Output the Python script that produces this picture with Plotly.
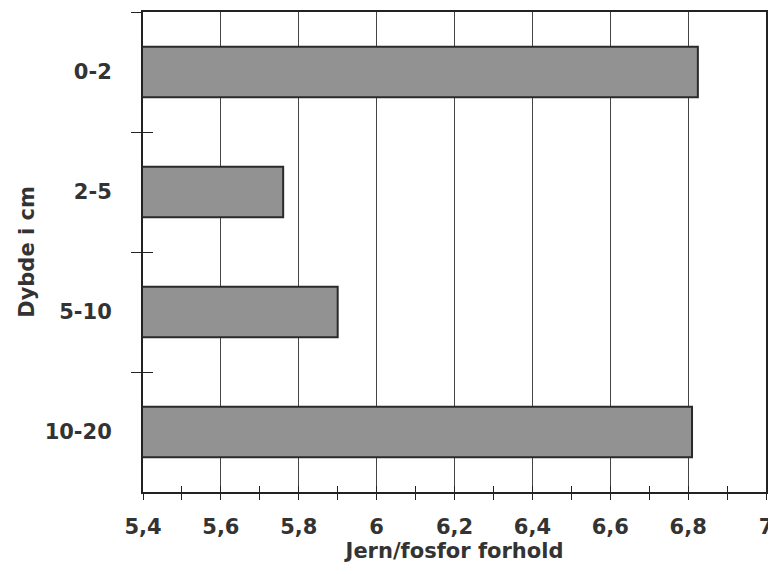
import plotly.graph_objects as go

categories = ["0-2", "2-5", "5-10", "10-20"]
values = [6.825, 5.76, 5.90, 6.81]
x_tickvals = [5.4, 5.6, 5.8, 6.0, 6.2, 6.4, 6.6, 6.8, 7.0]
x_ticktext = ["5,4", "5,6", "5,8", "6", "6,2", "6,4", "6,6", "6,8", "7"]

font_family = "DejaVu Sans, Liberation Sans, Arial, sans-serif"
axis_color = "#222222"
text_color = "#333333"
label_font = dict(family=font_family, size=21, weight="bold", color=text_color)

fig = go.Figure()
fig.add_trace(go.Bar(
    x=values, y=categories, orientation="h",
    marker=dict(color="#929292", line=dict(color="#2a2a2a", width=2)),
    hoverinfo="skip", showlegend=False,
))
# invisible copy on overlay axes so the inside (crossing) ticks render
fig.add_trace(go.Bar(
    x=values, y=categories, orientation="h",
    xaxis="x2", yaxis="y2",
    marker=dict(color="rgba(0,0,0,0)", line=dict(width=0)),
    hoverinfo="skip", showlegend=False,
))

fig.update_layout(
    width=768, height=566,
    margin=dict(l=135, r=10, t=4, b=82, autoexpand=False),
    paper_bgcolor="white", plot_bgcolor="white",
    bargap=0.58,
    font=dict(family=font_family, color=text_color),
    xaxis=dict(
        range=[5.4, 7.0], automargin=False,
        tickvals=x_tickvals, ticktext=x_ticktext,
        tickfont=label_font,
        showgrid=True, gridcolor="#444444", gridwidth=1,
        showline=True, linecolor=axis_color, linewidth=2, mirror=True,
        ticks="outside", ticklen=6, tickcolor=axis_color, tickwidth=1,
        minor=dict(dtick=0.1, tick0=5.4, ticks="outside", ticklen=6,
                   tickcolor=axis_color, showgrid=False),
        zeroline=False,
        ticklabelstandoff=9,
        title=dict(text="Jern/fosfor forhold", font=label_font, standoff=2),
    ),
    xaxis2=dict(
        range=[5.4, 7.0], overlaying="x", side="bottom", automargin=False,
        showticklabels=False, showgrid=False, showline=False,
        tickvals=x_tickvals, ticks="inside", ticklen=6,
        tickcolor=axis_color,
        minor=dict(dtick=0.1, tick0=5.4, ticks="inside", ticklen=6,
                   tickcolor=axis_color, showgrid=False),
        zeroline=False,
    ),
    yaxis=dict(
        categoryorder="array", categoryarray=categories,
        autorange="reversed", automargin=False,
        tickfont=label_font,
        showgrid=False,
        showline=True, linecolor=axis_color, linewidth=2, mirror=True,
        ticks="outside", tickson="boundaries", ticklen=10,
        tickcolor=axis_color, tickwidth=1,
        ticklabelstandoff=25,
        title=dict(text="Dybde i cm", font=label_font, standoff=4),
    ),
    yaxis2=dict(
        categoryorder="array", categoryarray=categories,
        autorange="reversed", overlaying="y", side="left", automargin=False,
        showticklabels=False, showgrid=False, showline=False,
        ticks="inside", tickson="boundaries", ticklen=10,
        tickcolor=axis_color, tickwidth=1,
    ),
)

fig.write_html("out.html")
